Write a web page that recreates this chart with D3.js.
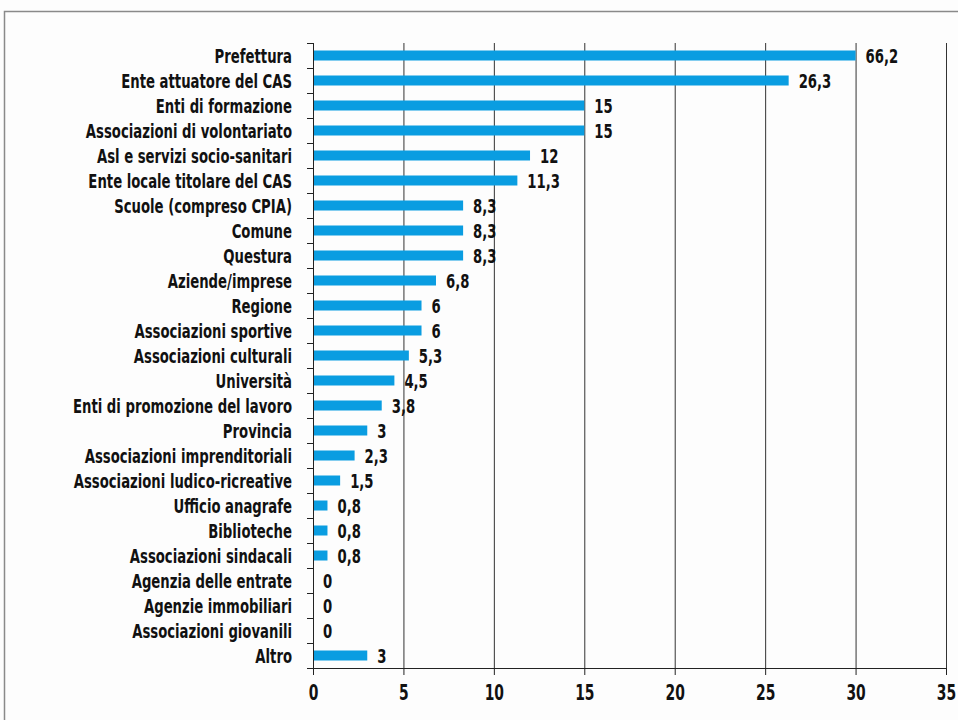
<!DOCTYPE html>
<html>
<head>
<meta charset="utf-8">
<script src="https://cdn.jsdelivr.net/npm/d3@7"></script>
<style>
	body { margin: 0; background: #fdfdfd; }
	text { font-family: 'DejaVu Sans Condensed', 'Liberation Sans Narrow', sans-serif; font-weight: bold; }
</style>
</head>
<body>
<div id="chart"></div>
<script>
// categories, top to bottom
const categories = [
	'Prefettura', 'Ente attuatore del CAS', 'Enti di formazione', 'Associazioni di volontariato',
	'Asl e servizi socio-sanitari', 'Ente locale titolare del CAS', 'Scuole (compreso CPIA)', 'Comune',
	'Questura', 'Aziende/imprese', 'Regione', 'Associazioni sportive', 'Associazioni culturali',
	'Università', 'Enti di promozione del lavoro', 'Provincia', 'Associazioni imprenditoriali',
	'Associazioni ludico-ricreative', 'Ufficio anagrafe', 'Biblioteche', 'Associazioni sindacali',
	'Agenzia delle entrate', 'Agenzie immobiliari', 'Associazioni giovanili', 'Altro'
];
const values = [66.2, 26.3, 15, 15, 12, 11.3, 8.3, 8.3, 8.3, 6.8, 6, 6, 5.3, 4.5, 3.8, 3, 2.3, 1.5, 0.8, 0.8, 0.8, 0, 0, 0, 3];
const xTicks = [0, 5, 10, 15, 20, 25, 30, 35];
const barCap = 30; // long bars are cut at this value

const W = 958, H = 720;
const margin = { top: 43, right: 12, bottom: 52, left: 313 };
const width = W - margin.left - margin.right,
	height = H - margin.top - margin.bottom;
const squeeze = 0.735; // condensed look for the labels

const root = d3.select('#chart').append('svg').attr('width', W).attr('height', H);

// frame
root.append('rect')
	.attr('x', 4.5).attr('y', 11.5).attr('width', W).attr('height', H)
	.attr('fill', 'none').attr('stroke', '#8a8a8a').attr('stroke-width', 1.5);

const svg = root.append('g').attr('transform', `translate(${margin.left},${margin.top})`);

const x = d3.scaleLinear().domain([0, 35]).range([0, width]);
const y = d3.scaleBand().domain(categories).range([0, height]).paddingInner(0.6).paddingOuter(0.3);

// vertical grid
svg.append('g')
	.selectAll('line')
	.data(xTicks.slice(1))
	.join('line')
	.attr('x1', (d) => x(d) + 0.5).attr('x2', (d) => x(d) + 0.5)
	.attr('y1', 0).attr('y2', height)
	.attr('stroke', '#333').attr('stroke-width', 1);

// bars
svg.append('g')
	.selectAll('rect')
	.data(values)
	.join('rect')
	.attr('x', 1)
	.attr('y', (d, i) => y(categories[i]))
	.attr('width', (d) => Math.max(0, x(Math.min(d, barCap)) - 1))
	.attr('height', y.bandwidth())
	.attr('fill', '#0a9de1');

// value labels
svg.append('g')
	.selectAll('text')
	.data(values)
	.join('text')
	.attr('transform', (d, i) =>
		`translate(${x(Math.min(d, barCap)) + 10},${y(categories[i]) + y.bandwidth() / 2}) scale(${squeeze},1)`)
	.attr('dy', '0.36em')
	.style('font-size', '20px')
	.attr('fill', '#111')
	.text((d) => String(d).replace('.', ','));

// y axis: ticks between categories
const yAxis = svg.append('g');
yAxis.append('line').attr('x1', 0.5).attr('x2', 0.5).attr('y1', 0).attr('y2', height)
	.attr('stroke', '#222');
yAxis.selectAll('line.tk')
	.data(d3.range(categories.length + 1))
	.join('line')
	.attr('class', 'tk')
	.attr('x1', -6).attr('x2', 0)
	.attr('y1', (i) => (i * height) / categories.length + 0.5)
	.attr('y2', (i) => (i * height) / categories.length + 0.5)
	.attr('stroke', '#222');
yAxis.selectAll('text')
	.data(categories)
	.join('text')
	.attr('transform', (d) => `translate(-21,${y(d) + y.bandwidth() / 2}) scale(${squeeze},1)`)
	.attr('dy', '0.36em')
	.attr('text-anchor', 'end')
	.style('font-size', '20px')
	.attr('fill', '#111')
	.text((d) => d);

// x axis
const xAxis = svg.append('g')
	.attr('transform', `translate(0, ${height})`)
	.call(d3.axisBottom(x).tickValues(xTicks).tickSize(7).tickPadding(10).tickFormat(d3.format('d')));
xAxis.select('.domain').attr('stroke', '#222');
xAxis.selectAll('.tick line').attr('stroke', '#222');
xAxis.selectAll('.tick text')
	.attr('transform', `scale(${squeeze},1)`)
	.style('font-size', '21px')
	.style('font-family', "'DejaVu Sans Condensed', sans-serif")
	.style('font-weight', 'bold')
	.attr('fill', '#111');
</script>
</body>
</html>
